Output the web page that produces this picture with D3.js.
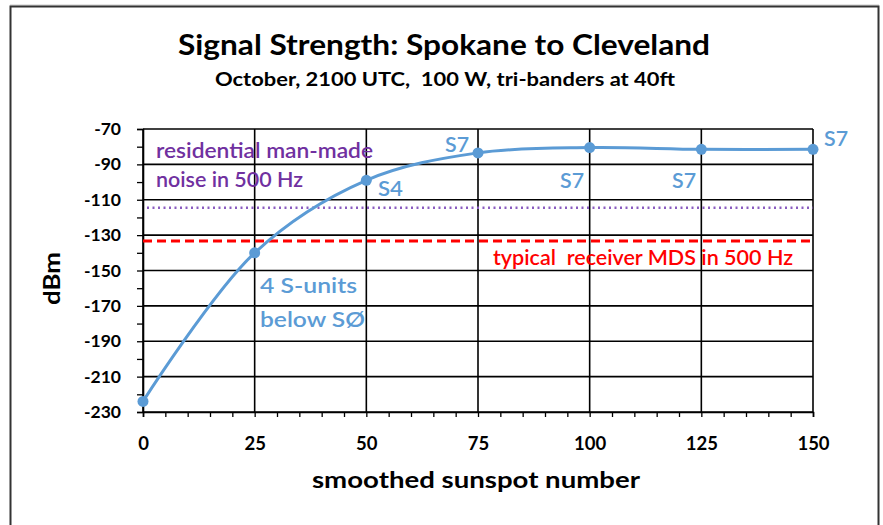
<!DOCTYPE html>
<html><head><meta charset="utf-8">
<script src="https://cdn.jsdelivr.net/npm/d3@7"></script>
<style>
html,body{margin:0;padding:0;background:#fff;}
text{font-family:Lato,"Open Sans",sans-serif;}
</style></head>
<body>
<svg id="chart" width="883" height="525"></svg>
<script>
const sunspots = [0, 25, 50, 75, 100, 125, 150];
const dBm = [-224, -140, -99, -83.5, -80.5, -81.5, -81.5];
const noiseLevel = -114.5;
const mdsLevel = -133.3;
const yTicks = [-70, -90, -110, -130, -150, -170, -190, -210, -230];
const xTicks = [0, 25, 50, 75, 100, 125, 150];
const title = "Signal Strength: Spokane to Cleveland";
const subtitle = "October, 2100 UTC,  100 W, tri-banders at 40ft";
const xTitle = "smoothed sunspot number";
const yTitle = "dBm";

const svg = d3.select("#chart");
const x = d3.scaleLinear().domain([0, 150]).range([143, 813]);
const y = d3.scaleLinear().domain([-230, -70]).range([412, 129]);

// outer frame
svg.append("line").attr("x1", 10).attr("x2", 879).attr("y1", 5).attr("y2", 5).attr("stroke", "#c8c8c8").attr("stroke-width", 1);
svg.append("rect").attr("x", 10.5).attr("y", 6.5).attr("width", 868).attr("height", 530)
  .attr("fill", "none").attr("stroke", "#333").attr("stroke-width", 2);

// titles
svg.append("text").attr("x", 178).attr("y", 55)
  .attr("font-size", 28).attr("font-weight", "bold").attr("fill", "#000")
  .attr("textLength", 532).attr("lengthAdjust", "spacingAndGlyphs").text(title);
svg.append("text").attr("x", 215).attr("y", 86).style("white-space", "pre")
  .attr("font-size", 18).attr("font-weight", "bold").attr("fill", "#000")
  .attr("textLength", 460).attr("lengthAdjust", "spacingAndGlyphs").text(subtitle);

// gridlines
const g = svg.append("g");
g.selectAll(".hg").data(yTicks).join("line")
  .attr("x1", x(0)).attr("x2", x(150)).attr("y1", d => y(d)).attr("y2", d => y(d))
  .attr("stroke", "#000").attr("stroke-width", 1.6);
g.selectAll(".vg").data(xTicks).join("line")
  .attr("x1", d => x(d)).attr("x2", d => x(d)).attr("y1", y(-70)).attr("y2", y(-230))
  .attr("stroke", "#000").attr("stroke-width", 1.6);

// axes
const fmt = d => String(d);
const xAxis = d3.axisBottom(x).tickValues(d3.range(0, 151, 5)).tickSize(5).tickFormat("");
svg.append("g").attr("transform", `translate(0,${y(-230)})`).call(xAxis)
  .call(s => { s.select(".domain").attr("stroke", "#000").attr("stroke-width", 1.6); s.selectAll("line").attr("stroke", "#000").attr("stroke-width", 1.3); });
const xLab = d3.axisBottom(x).tickValues(xTicks).tickSize(0).tickPadding(25).tickFormat(fmt);
svg.append("g").attr("transform", `translate(0,${y(-230)})`).call(xLab)
  .call(s => { s.select(".domain").remove(); s.selectAll("text").attr("font-size", 18.5).attr("font-weight", "bold").attr("fill", "#000").attr("font-family", "Lato"); });

const yAxis = d3.axisLeft(y).tickValues(d3.range(-230, -69, 10)).tickSize(6).tickFormat("");
svg.append("g").attr("transform", `translate(${x(0)},0)`).call(yAxis)
  .call(s => { s.select(".domain").attr("stroke", "#000").attr("stroke-width", 1.6); s.selectAll("line").attr("stroke", "#000").attr("stroke-width", 1.3); });
const yLab = d3.axisLeft(y).tickValues(yTicks).tickSize(0).tickPadding(22).tickFormat(fmt);
svg.append("g").attr("transform", `translate(${x(0)},0)`).call(yLab)
  .call(s => { s.select(".domain").remove(); s.selectAll("text").attr("font-size", 17.5).attr("font-weight", "bold").attr("fill", "#000").attr("font-family", "Lato"); });

// axis titles
svg.append("text").attr("x", 312).attr("y", 488)
  .attr("font-size", 23).attr("font-weight", "bold").attr("fill", "#000")
  .attr("textLength", 328).attr("lengthAdjust", "spacingAndGlyphs").text(xTitle);
svg.append("text").attr("transform", "translate(60,305) rotate(-90)")
  .attr("font-size", 23).attr("font-weight", "bold").attr("fill", "#000")
  .attr("textLength", 53).attr("lengthAdjust", "spacingAndGlyphs").text(yTitle);

// reference lines
svg.append("line").attr("x1", x(0) + 4).attr("x2", x(150)).attr("y1", y(noiseLevel)).attr("y2", y(noiseLevel))
  .attr("stroke", "#8a5cc0").attr("stroke-width", 2.5).attr("stroke-dasharray", "2,3.5");
svg.append("line").attr("x1", x(0)).attr("x2", x(150)).attr("y1", y(mdsLevel)).attr("y2", y(mdsLevel))
  .attr("stroke", "#ff0000").attr("stroke-width", 3).attr("stroke-dasharray", "9,5");

// series
const pts = sunspots.map((s, i) => [s, dBm[i]]);
const line = d3.line().x(d => x(d[0])).y(d => y(d[1])).curve(d3.curveCatmullRom.alpha(0.5));
svg.append("path").datum(pts).attr("d", line).attr("fill", "none")
  .attr("stroke", "#5b9bd5").attr("stroke-width", 3);
svg.selectAll(".pt").data(pts).join("circle")
  .attr("cx", d => x(d[0])).attr("cy", d => y(d[1])).attr("r", 5.5).attr("fill", "#5b9bd5");

// annotations
const blue = "#5b9bd5";
const ann = [
  {t: "residential man-made", x: 156, y: 158, w: 217, c: "#7030a0"},
  {t: "noise in 500 Hz", x: 156, y: 187, w: 147, c: "#7030a0"},
  {t: "S4", x: 378, y: 196, w: 25, c: blue},
  {t: "4 S-units", x: 260, y: 293, w: 97, c: blue},
  {t: "below SØ", x: 260, y: 327, w: 105, c: blue},
  {t: "S7", x: 445, y: 152, w: 24, c: blue},
  {t: "S7", x: 560, y: 188, w: 24, c: blue},
  {t: "S7", x: 672, y: 188, w: 24, c: blue},
  {t: "S7", x: 824, y: 146, w: 24, c: blue},
  {t: "typical  receiver MDS in 500 Hz", x: 493, y: 265, w: 300, c: "#ff0000"}
];
svg.selectAll(".ann").data(ann).join("text")
  .attr("x", d => d.x).attr("y", d => d.y).attr("fill", d => d.c)
  .attr("font-size", 21).attr("font-weight", 600).style("white-space", "pre")
  .attr("textLength", d => d.w).attr("lengthAdjust", "spacingAndGlyphs").text(d => d.t);
</script>
</body></html>
